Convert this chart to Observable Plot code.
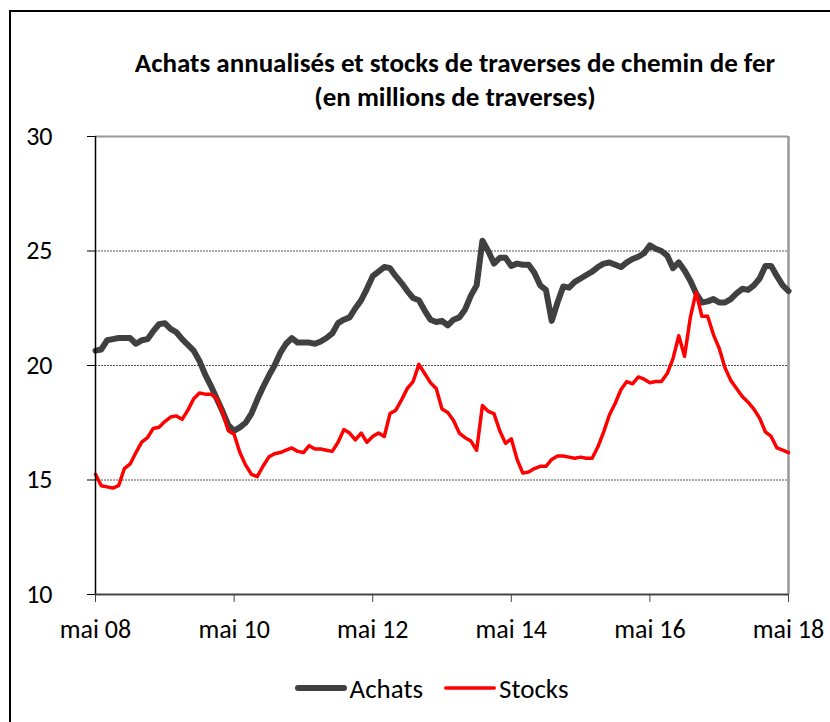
<!DOCTYPE html>
<html>
<head>
<meta charset="utf-8">
<script src="https://cdn.jsdelivr.net/npm/d3@7"></script>
<script src="https://cdn.jsdelivr.net/npm/@observablehq/plot@0.6"></script>
<style>
  html, body { margin: 0; padding: 0; background: #fff; overflow: hidden; }
  #wrap { position: relative; width: 830px; height: 722px; overflow: hidden; font-family: Carlito, Lato, "Open Sans", sans-serif; }
  #frame { position: absolute; left: 9px; top: 10px; width: 900px; height: 800px; border: 2px solid #000; box-sizing: border-box; }
  #title { position: absolute; left: 0; top: 46px; width: 910px; text-align: center; font-weight: bold; font-size: 27px; line-height: 34px; color: #000; }
  #chart { position: absolute; left: 0; top: 110px; }
  #legend { position: absolute; left: 0; top: 670px; width: 862px; height: 36px; display: flex; justify-content: center; align-items: center; font-size: 27px; color: #000; }
  #legend .item { display: flex; align-items: center; margin: 0 10px; }
</style>
</head>
<body>
<div id="wrap">
  <div id="frame"></div>
  <div id="title">Achats annualisés et stocks de traverses de chemin de fer<br>(en millions de traverses)</div>
  <div id="chart"></div>
  <div id="legend"></div>
</div>
<script>
const xLabels = ["mai 08", "mai 10", "mai 12", "mai 14", "mai 16", "mai 18"];
const xTickMonths = [0, 24, 48, 72, 96, 120];
const yTicks = [10, 15, 20, 25, 30];
const gridValues = [15, 20, 25];
const seriesNames = ["Achats", "Stocks"];

const achats = [
  20.65, 20.7, 21.1, 21.15, 21.2, 21.2, 21.2, 20.95, 21.1, 21.15,
  21.5, 21.8, 21.85, 21.6, 21.45, 21.15, 20.9, 20.65, 20.2, 19.6,
  19.1, 18.55, 18.0, 17.4, 17.15, 17.3, 17.5, 17.9, 18.5, 19.05,
  19.55, 20.0, 20.55, 20.95, 21.2, 21.0, 21.0, 21.0, 20.95, 21.05,
  21.2, 21.4, 21.85, 22.0, 22.1, 22.5, 22.85, 23.35, 23.9, 24.1,
  24.3, 24.25, 23.9, 23.6, 23.25, 22.95, 22.85, 22.4, 22.0, 21.9,
  21.95, 21.75, 22.0, 22.1, 22.45, 23.05, 23.5, 25.45, 25.0, 24.45,
  24.7, 24.7, 24.35, 24.45, 24.4, 24.4, 24.05, 23.5, 23.3, 21.95,
  22.75, 23.45, 23.4, 23.65, 23.8, 23.95, 24.1, 24.3, 24.45, 24.5,
  24.4, 24.3, 24.5, 24.65, 24.75, 24.9, 25.25, 25.1, 25.0, 24.8,
  24.25, 24.5, 24.15, 23.7, 23.15, 22.75, 22.8, 22.9, 22.75, 22.75,
  22.9, 23.15, 23.35, 23.3, 23.5, 23.8, 24.35, 24.35, 23.9, 23.5,
  23.25
];

const stocks = [
  15.25, 14.75, 14.7, 14.65, 14.75, 15.5, 15.7, 16.2, 16.65, 16.85,
  17.25, 17.3, 17.55, 17.75, 17.8, 17.65, 18.05, 18.55, 18.8, 18.75,
  18.75, 18.55, 17.95, 17.15, 17.0, 16.2, 15.65, 15.25, 15.15, 15.6,
  16.0, 16.15, 16.2, 16.3, 16.4, 16.25, 16.2, 16.5, 16.35, 16.35,
  16.3, 16.25, 16.65, 17.2, 17.05, 16.75, 17.05, 16.65, 16.9, 17.05,
  16.9, 17.9, 18.05, 18.5, 19.0, 19.3, 20.05, 19.65, 19.25, 19.0,
  18.1, 17.95, 17.6, 17.05, 16.85, 16.7, 16.3, 18.25, 18.0, 17.9,
  17.15, 16.6, 16.8, 15.9, 15.3, 15.35, 15.5, 15.6, 15.6, 15.9,
  16.05, 16.05, 16.0, 15.95, 16.0, 15.95, 15.95, 16.45, 17.1, 17.85,
  18.35, 18.95, 19.3, 19.2, 19.5, 19.4, 19.25, 19.3, 19.3, 19.65,
  20.3, 21.3, 20.4, 22.1, 23.2, 22.15, 22.15, 21.35, 20.75, 19.9,
  19.35, 19.0, 18.65, 18.4, 18.1, 17.7, 17.1, 16.9, 16.4, 16.3,
  16.2
];

const colors = { Achats: "#404040", Stocks: "#ff0000" };
const widths = { Achats: 6, Stocks: 3.5 };

const chart = Plot.plot({
  width: 830,
  height: 540,
  marginLeft: 95,
  marginRight: 42,
  marginTop: 26,
  marginBottom: 56,
  x: { domain: [0, 120] },
  y: { domain: [10, 30] },
  style: { fontFamily: "Carlito, Lato, 'Open Sans', sans-serif", fontSize: "26px", color: "#000", background: "transparent" },
  marks: [
    Plot.ruleY(gridValues, { stroke: "#555", strokeWidth: 1, strokeDasharray: "2,1" }),
    Plot.ruleY([30], { stroke: "#999", strokeWidth: 2 }),
    Plot.ruleX([120], { stroke: "#999", strokeWidth: 2.5 }),
    Plot.lineY(achats, { x: (d, i) => i, y: d => d, stroke: colors.Achats, strokeWidth: widths.Achats, strokeLinejoin: "round", strokeLinecap: "round" }),
    Plot.lineY(stocks, { x: (d, i) => i, y: d => d, stroke: colors.Stocks, strokeWidth: widths.Stocks, strokeLinejoin: "round", strokeLinecap: "round" }),
    Plot.ruleX([0], { stroke: "#000", strokeWidth: 1.5 }),
    Plot.ruleY([10], { stroke: "#444", strokeWidth: 2 }),
    Plot.axisY({ ticks: yTicks, tickSize: 8, tickPadding: 35, tickFormat: d => String(d), stroke: "#000", label: null }),
    Plot.axisX({ ticks: xTickMonths, tickSize: 8, tickPadding: 17, tickFormat: d => xLabels[xTickMonths.indexOf(d)], stroke: "#444", label: null })
  ]
});
document.getElementById("chart").appendChild(chart);

const legend = document.getElementById("legend");
seriesNames.forEach(name => {
  const item = document.createElement("div");
  item.className = "item";
  const w = widths[name];
  item.innerHTML = `<svg width="54" height="12" style="margin-right:2px"><line x1="${w/2+1}" y1="6" x2="${53-w/2}" y2="6" stroke="${colors[name]}" stroke-width="${w}" stroke-linecap="round"/></svg><span>${name}</span>`;
  legend.appendChild(item);
});
</script>
</body>
</html>
